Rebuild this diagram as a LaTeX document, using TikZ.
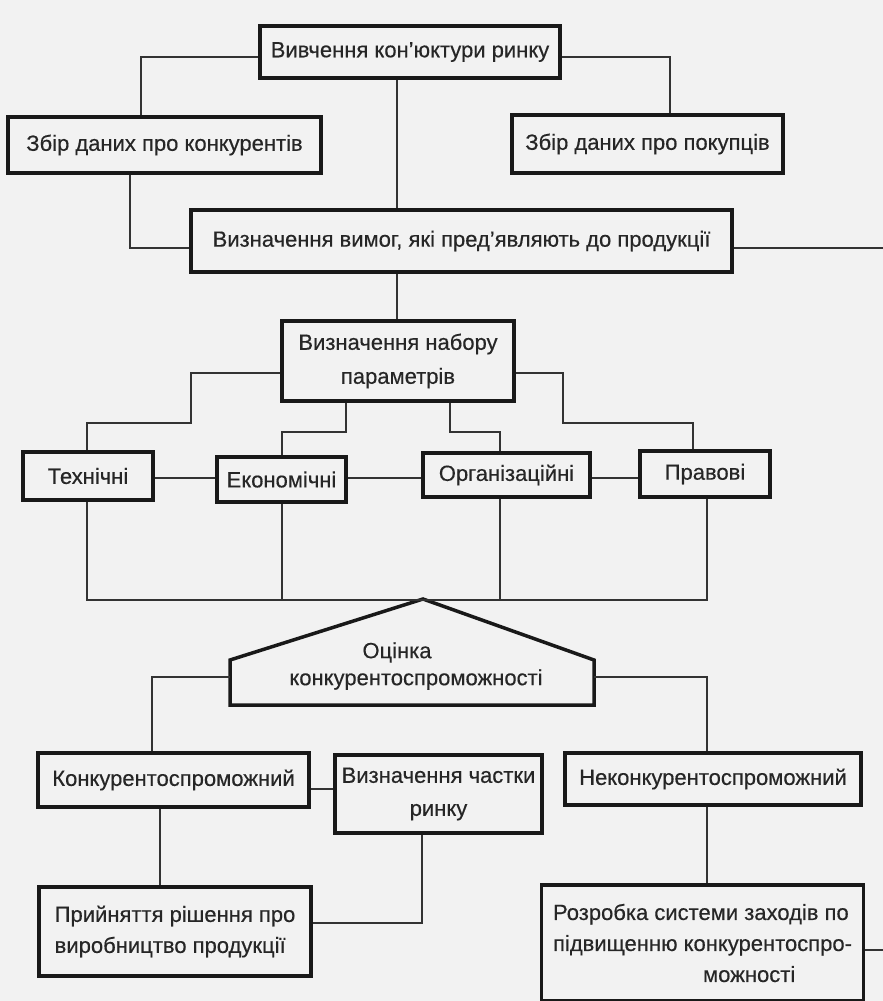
\documentclass[tikz,border=0pt]{standalone}
\usepackage{fontspec}
\setmainfont[FakeBold=0.4]{Liberation Sans}
\begin{document}
\begin{tikzpicture}[x=1pt,y=-1pt,
        box/.style={draw=black!90, line width=3.5pt, inner sep=0pt, align=center,
            text=black!85, font=\fontsize{22}{31}\selectfont},
        wire/.style={draw=black!80, line width=1.8pt}]
        \fill[gray!10] (0,0) rectangle (883,1001);
        \useasboundingbox (0,0) rectangle (883,1001);

        \node[box, minimum width=300pt, minimum height=52pt] (1) at (410,52) {Вивчення кон'юктури ринку};
        \node[box, minimum width=313pt, minimum height=56pt] (2) at (164.5,145) {Збір даних про конкурентів};
        \node[box, minimum width=271pt, minimum height=58pt] (3) at (647.5,144) {Збір даних про покупців};
        \node[box, minimum width=541pt, minimum height=62pt] (4) at (461.5,241) {Визначення вимог, які пред'являють до продукції};
        \node[box, minimum width=232pt, minimum height=80pt] (5) at (398,361) {Визначення набору\\[3pt]параметрів};
        \node[box, minimum width=130pt, minimum height=48pt] (6) at (88,476) {Технічні};
        \node[box, minimum width=129pt, minimum height=45pt] (7) at (281.5,479.5) {Економічні};
        \node[box, minimum width=167pt, minimum height=44pt] (8) at (506.5,475) {Організаційні};
        \node[box, minimum width=130pt, minimum height=46pt] (9) at (705,474) {Правові};

        \draw[box] (230,705) -- (230,660) -- (423,599) -- (594,660) -- (594,705) -- cycle;
        \node[box, draw=none] (10) at (416,666) {\hspace*{-38pt}Оцінка\\[-4pt]конкурентоспроможності};
        \coordinate (10l) at (230,677);
        \coordinate (10r) at (594,677);

        \node[box, minimum width=271pt, minimum height=54pt] (11) at (173.5,780) {Конкурентоспроможний};
        \node[box, minimum width=207pt, minimum height=78pt] (12) at (438.5,794) {Визначення частки\\[2pt]ринку};
        \node[box, minimum width=296pt, minimum height=52pt] (13) at (713,779) {Неконкурентоспроможний};
        \node[box, minimum width=272pt, minimum height=89pt, align=left] (14) at (175,931.5) {Прийняття рішення про\\виробництво продукції};
        \node[box, minimum width=322pt, minimum height=116pt, align=left] (15) at (702.5,943) {Розробка системи заходів по\\підвищенню конкурентоспро-\\\hspace*{150pt}можності};

        \coordinate (r1) at (883,248);
        \coordinate (r2) at (883,950);

        % top part
        \path[wire] (1.west |- 0,57) -| (2.north -| 141,0);
        \path[wire] (1.east |- 0,57) -| (3.north -| 670,0);
        \path[wire] (1.south -| 397,0) -- (4.north -| 397,0);
        \path[wire] (2.south -| 130,0) |- (4.west |- 0,248);
        \path[wire] (4.east |- r1) -- (r1);
        \path[wire] (4.south -| 397,0) -- (5.north -| 397,0);

        % parameters
        \path[wire] (5.west |- 0,373) -- (191,373) |- (87,423) -- (6.north -| 87,0);
        \path[wire] (5.south -| 346,0) |- (282,432) -- (7.north -| 282,0);
        \path[wire] (5.south -| 450,0) |- (500,432) -- (8.north -| 500,0);
        \path[wire] (5.east |- 0,373) -- (563,373) |- (693,423) -- (9.north -| 693,0);
        \path[wire] (6.east |- 0,478) -- (7.west |- 0,478);
        \path[wire] (7.east |- 0,478) -- (8.west |- 0,478);
        \path[wire] (8.east |- 0,478) -- (9.west |- 0,478);
        \path[wire] (6.south -| 87,0) |- (707,600) -- (9.south -| 707,0);
        \path[wire] (7.south -| 282,0) -- (282,600);
        \path[wire] (8.south -| 500,0) -- (500,600);

        % evaluation
        \path[wire] (10l) -| (11.north -| 152,0);
        \path[wire] (10r) -| (13.north -| 707,0);
        \path[wire] (11.east |- 0,789) -- (12.west |- 0,789);
        \path[wire] (11.south -| 160,0) -- (14.north -| 160,0);
        \path[wire] (12.south -| 422,0) |- (14.east |- 0,923);
        \path[wire] (13.south -| 707,0) -- (15.north -| 707,0);
        \path[wire] (15.east |- r2) -- (r2);
\end{tikzpicture}
\end{document}
